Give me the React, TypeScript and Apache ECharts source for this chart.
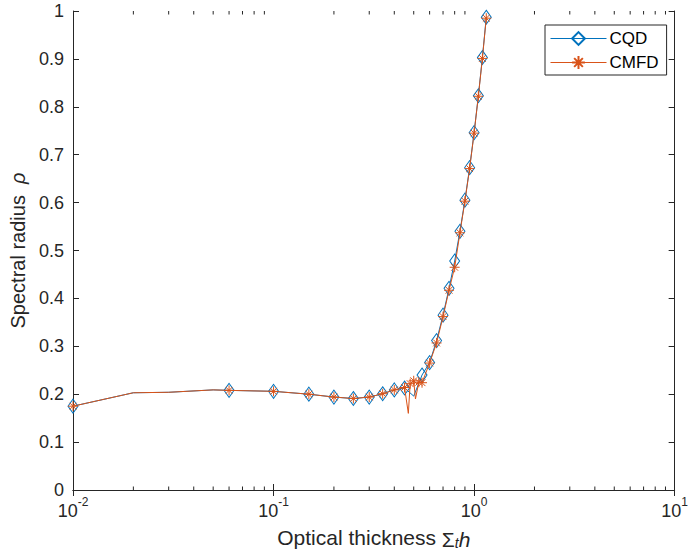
import React, { useEffect, useRef } from "react";
import * as echarts from "echarts";

// ---- data ----
const cqdX = [0.01, 0.02, 0.03, 0.05, 0.06, 0.1, 0.15, 0.2, 0.25, 0.3, 0.35, 0.4, 0.45, 0.5, 0.55, 0.6, 0.65, 0.7, 0.75, 0.8, 0.85, 0.9, 0.95, 1.0, 1.05, 1.1, 1.15];
const cqdY = [0.175, 0.203, 0.204, 0.209, 0.208, 0.206, 0.2, 0.194, 0.191, 0.194, 0.201, 0.209, 0.213, 0.196, 0.24, 0.266, 0.312, 0.365, 0.421, 0.478, 0.54, 0.605, 0.673, 0.746, 0.823, 0.903, 0.987];
const cqdMarked = [1, 0, 0, 0, 1, 1, 1, 1, 1, 1, 1, 1, 1, 0, 1, 1, 1, 1, 1, 1, 1, 1, 1, 1, 1, 1, 1];

const cmfdX = [0.01, 0.02, 0.03, 0.05, 0.06, 0.1, 0.15, 0.2, 0.25, 0.3, 0.35, 0.4, 0.45, 0.47, 0.48, 0.5, 0.51, 0.53, 0.55, 0.6, 0.65, 0.7, 0.75, 0.8, 0.85, 0.9, 0.95, 1.0, 1.05, 1.1, 1.15];
const cmfdY = [0.175, 0.203, 0.204, 0.209, 0.208, 0.206, 0.2, 0.194, 0.191, 0.194, 0.201, 0.209, 0.214, 0.16, 0.222, 0.228, 0.19, 0.225, 0.224, 0.265, 0.307, 0.362, 0.417, 0.465, 0.537, 0.603, 0.671, 0.745, 0.822, 0.901, 0.985];
const cmfdMarked = [1, 0, 0, 0, 1, 1, 1, 1, 1, 1, 1, 1, 1, 0, 1, 1, 0, 1, 1, 1, 1, 1, 1, 1, 1, 1, 1, 1, 1, 1, 1];

const minorTicks = [0.02, 0.03, 0.04, 0.05, 0.06, 0.07, 0.08, 0.09, 0.2, 0.3, 0.4, 0.5, 0.6, 0.7, 0.8, 0.9, 2, 3, 4, 5, 6, 7, 8, 9];

const FONT = "Liberation Sans";
const AXC = "#262626";
const BLUE = "#0072BD";
const ORANGE = "#D95319";
const ASTERISK = "path://M5,0L5,10M0,5L10,5M1.6,1.6L8.4,8.4M1.6,8.4L8.4,1.6";

function buildData(xs: number[], ys: number[], marked: number[]) {
  return xs.map((x, i) =>
    marked[i] ? { value: [x, ys[i]] } : { value: [x, ys[i]], symbol: "none" }
  );
}

export default function App() {
  const ref = useRef<HTMLDivElement>(null);
  useEffect(() => {
    if (!ref.current) return;
    const chart = echarts.init(ref.current, null, { renderer: "svg" });
    const xBase = {
      type: "log",
      logBase: 10,
      min: 0.01,
      max: 10,
      gridIndex: 0,
      splitLine: { show: false },
      minorTick: { show: false },
      axisLine: { show: true, lineStyle: { color: AXC, width: 1 } },
      axisTick: { show: true, inside: true, length: 6, lineStyle: { color: AXC, width: 1 } },
    };
    const yBase = {
      type: "value",
      min: 0,
      max: 1,
      interval: 0.1,
      splitLine: { show: false },
      axisLine: { show: true, lineStyle: { color: AXC, width: 1 } },
      axisTick: { show: true, inside: true, length: 6, lineStyle: { color: AXC, width: 1 } },
    };
    chart.setOption({
      animation: false,
      backgroundColor: "#ffffff",
      grid: { left: 73, right: 12, top: 11, bottom: 66, containLabel: false },
      legend: {
        data: ["CQD", "CMFD"],
        orient: "vertical",
        left: 545,
        top: 25,
        backgroundColor: "#ffffff",
        borderColor: AXC,
        borderWidth: 1,
        padding: [5, 8, 4, 5],
        itemWidth: 56,
        itemHeight: 16,
        itemGap: 7,
        lineStyle: { width: 1 },
        textStyle: { fontFamily: FONT, fontSize: 17, color: "#000000", lineHeight: 17, padding: [0, 0, 0, -2] },
      },
      xAxis: [
        {
          ...xBase,
          position: "bottom",
          name: "Optical thickness {m|Σ}{sub|t}{i|h}",
          nameLocation: "middle",
          nameGap: 35,
          nameTextStyle: {
            fontFamily: FONT,
            fontSize: 21,
            color: AXC,
            rich: {
              m: { fontFamily: FONT, fontSize: 21, color: AXC, verticalAlign: "bottom", lineHeight: 25 },
              sub: { fontFamily: FONT, fontSize: 14, fontStyle: "italic", color: AXC, verticalAlign: "bottom", lineHeight: 19 },
              i: { fontFamily: FONT, fontSize: 21, fontStyle: "italic", color: AXC, verticalAlign: "bottom", lineHeight: 25 },
            },
          },
          axisLabel: {
            show: true,
            margin: 6,
            formatter: (v: number) => `{b|10}{s|${Math.round(Math.log10(v))}}`,
            rich: {
              b: { fontFamily: FONT, fontSize: 18, color: AXC, verticalAlign: "bottom", lineHeight: 24 },
              s: { fontFamily: FONT, fontSize: 12, color: AXC, verticalAlign: "top", lineHeight: 14 },
            },
          },
        },
        {
          ...xBase,
          position: "top",
          axisLabel: { show: false },
        },
      ],
      yAxis: [
        {
          ...yBase,
          position: "left",
          name: "Spectral radius  {r|ρ}",
          nameLocation: "middle",
          nameGap: 42,
          nameTextStyle: {
            fontFamily: FONT,
            fontSize: 20,
            color: AXC,
            rich: { r: { fontFamily: FONT, fontSize: 20, fontStyle: "italic", color: AXC } },
          },
          axisLabel: { show: true, margin: 9, fontFamily: FONT, fontSize: 18, color: AXC },
        },
        {
          ...yBase,
          position: "right",
          axisLabel: { show: false },
        },
      ],
      series: [
        {
          name: "minor",
          type: "custom",
          xAxisIndex: 0,
          yAxisIndex: 0,
          silent: true,
          clip: false,
          data: minorTicks.map((v) => [v, 0]),
          encode: { x: 0, y: 1 },
          renderItem: (_p: any, api: any) => {
            const v = api.value(0);
            const b = api.coord([v, 0]);
            const t = api.coord([v, 1]);
            const st = { stroke: AXC, lineWidth: 1 };
            return {
              type: "group",
              children: [
                { type: "line", shape: { x1: b[0], y1: b[1], x2: b[0], y2: b[1] - 3.5 }, style: st },
                { type: "line", shape: { x1: t[0], y1: t[1], x2: t[0], y2: t[1] + 3.5 }, style: st },
              ],
            };
          },
        },
        {
          name: "CQD",
          type: "line",
          xAxisIndex: 0,
          yAxisIndex: 0,
          data: buildData(cqdX, cqdY, cqdMarked),
          symbol: "diamond",
          symbolSize: [10, 14],
          showAllSymbol: true,
          lineStyle: { color: BLUE, width: 1 },
          itemStyle: { color: "rgba(255,255,255,0)", borderColor: BLUE, borderWidth: 1 },
          z: 3,
        },
        {
          name: "CMFD",
          type: "line",
          xAxisIndex: 0,
          yAxisIndex: 0,
          data: buildData(cmfdX, cmfdY, cmfdMarked),
          symbol: ASTERISK,
          symbolSize: 10,
          showAllSymbol: true,
          lineStyle: { color: ORANGE, width: 1 },
          itemStyle: { color: "rgba(255,255,255,0)", borderColor: ORANGE, borderWidth: 1 },
          z: 4,
        },
      ],
    });
    return () => chart.dispose();
  }, []);
  return <div ref={ref} style={{ width: 691, height: 556, position: "absolute", left: 0, top: 0 }} />;
}
